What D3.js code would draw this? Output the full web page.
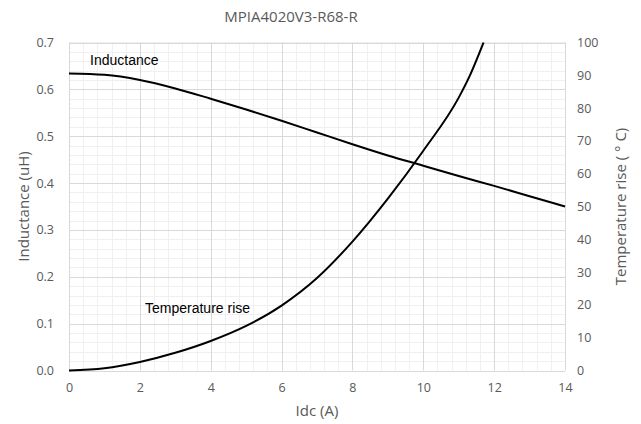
<!DOCTYPE html>
<html lang="en">
<head>
  <meta charset="UTF-8">
  <title>MPIA4020V3-R68-R</title>
  <script src="https://d3js.org/d3.v7.min.js"></script>
  <style>
    body { margin: 0; background: #fff; }
    .tick-label { font: 12.5px "Open Sans", sans-serif; fill: #595959; }
    .axis-title { font: 15px "Open Sans", sans-serif; fill: #595959; }
    .chart-title { font: 15px "Open Sans", sans-serif; fill: #595959; }
    .series-label { font: 14px "Liberation Sans", Arial, sans-serif; fill: #000; }
  </style>
</head>
<body>
<svg width="641" height="424"></svg>
<script>
  // current (A)
  const idcInd = [0, 1, 2, 3, 4, 5, 6, 7, 8, 9, 10, 11, 12, 13, 14];
  // inductance (uH)
  const inductance = [0.634, 0.631, 0.620, 0.602, 0.580, 0.557, 0.533, 0.508, 0.483, 0.459, 0.437, 0.415, 0.394, 0.372, 0.350];

  const idcTemp = [0, 1, 2, 3, 4, 5, 6, 7, 8, 9, 10, 11, 11.3, 11.7];
  // temperature rise (deg C)
  const tempRise = [0, 0.7, 2.6, 5.4, 9.0, 13.6, 19.8, 28.2, 39.3, 52.4, 67.0, 83.2, 89.6, 100];

  const xTicks = [0, 2, 4, 6, 8, 10, 12, 14];
  const yLeftTicks = [0, 0.1, 0.2, 0.3, 0.4, 0.5, 0.6, 0.7];
  const yRightTicks = [0, 10, 20, 30, 40, 50, 60, 70, 80, 90, 100];

  const svg = d3.select("svg");
  const margin = {top: 42.5, right: 76, bottom: 53.5, left: 69};
  const width = 641, height = 424;
  const plotW = width - margin.left - margin.right;
  const plotH = height - margin.top - margin.bottom;

  const x = d3.scaleLinear().domain([0, 14]).range([margin.left, margin.left + plotW]);
  const yL = d3.scaleLinear().domain([0, 0.7]).range([margin.top + plotH, margin.top]);
  const yR = d3.scaleLinear().domain([0, 100]).range([margin.top + plotH, margin.top]);

  const grid = svg.append("g");
  // minor grid
  grid.selectAll(".vminor").data(d3.range(0, 14.001, 0.4)).join("line")
      .attr("x1", d => Math.round(x(d)) + 0.5).attr("x2", d => Math.round(x(d)) + 0.5)
      .attr("y1", yL(0)).attr("y2", yL(0.7))
      .attr("stroke", "#f0f0f0");
  grid.selectAll(".hminor").data(d3.range(0, 0.7001, 0.02)).join("line")
      .attr("x1", x(0)).attr("x2", x(14))
      .attr("y1", d => Math.round(yL(d)) + 0.5).attr("y2", d => Math.round(yL(d)) + 0.5)
      .attr("stroke", "#f0f0f0");
  // major grid
  grid.selectAll(".vmajor").data(xTicks).join("line")
      .attr("x1", d => Math.round(x(d)) + 0.5).attr("x2", d => Math.round(x(d)) + 0.5)
      .attr("y1", yL(0)).attr("y2", yL(0.7))
      .attr("stroke", "#d9d9d9");
  grid.selectAll(".hmajor").data(yLeftTicks).join("line")
      .attr("x1", x(0)).attr("x2", x(14))
      .attr("y1", d => Math.round(yL(d)) + 0.5).attr("y2", d => Math.round(yL(d)) + 0.5)
      .attr("stroke", "#d9d9d9");

  // axes (text only)
  const xAxis = svg.append("g")
      .attr("transform", `translate(0,${yL(0) + 6})`)
      .call(d3.axisBottom(x).tickValues(xTicks).tickSize(0).tickPadding(7));
  const yAxisL = svg.append("g")
      .attr("transform", `translate(${x(0) - 5},0)`)
      .call(d3.axisLeft(yL).tickValues(yLeftTicks).tickSize(0).tickPadding(10).tickFormat(d3.format(".1f")));
  const yAxisR = svg.append("g")
      .attr("transform", `translate(${x(14) + 2},0)`)
      .call(d3.axisRight(yR).tickValues(yRightTicks).tickSize(0).tickPadding(10));
  [xAxis, yAxisL, yAxisR].forEach(a => {
    a.select(".domain").remove();
    a.selectAll("text").attr("class", "tick-label");
    a.attr("font-size", null).attr("font-family", null);
  });

  // lines
  const lineInd = d3.line().x((d, i) => x(idcInd[i])).y(d => yL(d)).curve(d3.curveMonotoneX);
  const lineTemp = d3.line().x((d, i) => x(idcTemp[i])).y(d => yR(d)).curve(d3.curveMonotoneX);

  svg.append("path").datum(inductance)
      .attr("d", lineInd).attr("fill", "none").attr("stroke", "#000").attr("stroke-width", 2);
  svg.append("path").datum(tempRise)
      .attr("d", lineTemp).attr("fill", "none").attr("stroke", "#000").attr("stroke-width", 2);

  // titles
  svg.append("text").attr("class", "chart-title")
      .attr("x", 291).attr("y", 22).attr("text-anchor", "middle")
      .text("MPIA4020V3-R68-R");
  svg.append("text").attr("class", "axis-title")
      .attr("x", x(7)).attr("y", 416).attr("text-anchor", "middle")
      .text("Idc (A)");
  svg.append("text").attr("class", "axis-title")
      .attr("transform", `translate(29,${yL(0.35)}) rotate(-90)`)
      .attr("text-anchor", "middle")
      .text("Inductance (uH)");
  svg.append("text").attr("class", "axis-title")
      .attr("transform", `translate(626,${yL(0.35)}) rotate(-90)`)
      .attr("text-anchor", "middle")
      .text("Temperature rise ( ° C)");

  svg.append("text").attr("class", "series-label")
      .attr("x", 90).attr("y", 65).text("Inductance");
  svg.append("text").attr("class", "series-label")
      .attr("x", 145).attr("y", 313).text("Temperature rise");
</script>
</body>
</html>
